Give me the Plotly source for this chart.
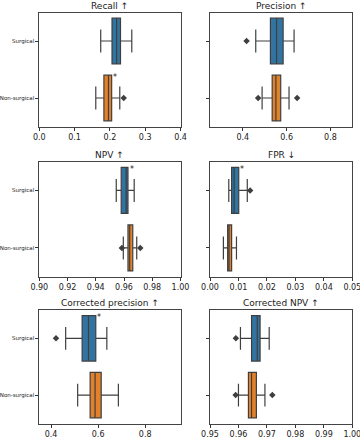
import plotly.graph_objects as go

groups = ["Surgical", "Non-surgical"]
titles = ["Recall ↑", "Precision ↑", "NPV ↑", "FPR ↓", "Corrected precision ↑", "Corrected NPV ↑"]

# [lower whisker, q1, median, q3, upper whisker]
recall_surg = [0.174, 0.206, 0.219, 0.230, 0.262]
recall_non = [0.160, 0.183, 0.196, 0.205, 0.228]
precision_surg = [0.459, 0.526, 0.554, 0.584, 0.634]
precision_non = [0.488, 0.534, 0.551, 0.573, 0.611]
npv_surg = [0.9545, 0.9580, 0.9615, 0.9628, 0.9672]
npv_non = [0.9595, 0.9628, 0.9640, 0.9662, 0.9690]
fpr_surg = [0.0066, 0.0076, 0.0085, 0.0101, 0.0131]
fpr_non = [0.0047, 0.0062, 0.0067, 0.0076, 0.0093]
cprec_surg = [0.462, 0.532, 0.559, 0.590, 0.637]
cprec_non = [0.513, 0.566, 0.587, 0.613, 0.686]
cnpv_surg = [0.9607, 0.9646, 0.9666, 0.9676, 0.9708]
cnpv_non = [0.9600, 0.9635, 0.9646, 0.9663, 0.9693]

# outliers per metric: [surgical list, non-surgical list]
recall_out = [[], [0.239]]
precision_out = [[0.417], [0.470, 0.648]]
npv_out = [[], [0.9585, 0.9715]]
fpr_out = [[0.0141], []]
cprec_out = [[0.421], []]
cnpv_out = [[0.9591], [0.9590, 0.9719]]

# significance marks: which group carries "*"
recall_star = [False, True]
precision_star = [False, False]
npv_star = [True, False]
fpr_star = [True, False]
cprec_star = [True, False]
cnpv_star = [False, False]

x_ranges = [[0, 0.4], [0.25, 0.9], [0.9, 1.0], [0, 0.05], [0.35, 0.95], [0.95, 1.0]]
x_ticks = [[0, 0.1, 0.2, 0.3, 0.4], [0.4, 0.6, 0.8], [0.9, 0.92, 0.94, 0.96, 0.98, 1.0],
           [0, 0.01, 0.02, 0.03, 0.04, 0.05], [0.4, 0.6, 0.8], [0.95, 0.96, 0.97, 0.98, 0.99, 1.0]]
x_fmt = [".1f", ".1f", ".2f", ".2f", ".1f", ".2f"]

stats = [(recall_surg, recall_non), (precision_surg, precision_non), (npv_surg, npv_non),
         (fpr_surg, fpr_non), (cprec_surg, cprec_non), (cnpv_surg, cnpv_non)]
outs = [recall_out, precision_out, npv_out, fpr_out, cprec_out, cnpv_out]
stars = [recall_star, precision_star, npv_star, fpr_star, cprec_star, cnpv_star]

colors = ["#3274a1", "#e1812c"]
line_col = "#3f3f3f"
W, H = 360, 440
col_px = [(39.3, 180.5), (210.0, 352.3)]
row_px = [(12.5, 126.5), (161.7, 276.7), (310.0, 423.5)]

fig = go.Figure()
font = "DejaVu Sans"
layout = dict(width=W, height=H, margin=dict(l=0, r=0, t=0, b=0), showlegend=False,
              paper_bgcolor="white", plot_bgcolor="white", annotations=[])

for k in range(6):
    r, c = divmod(k, 2)
    xa = "x" if k == 0 else f"x{k+1}"
    ya = "y" if k == 0 else f"y{k+1}"
    for g in range(2):
        lo, q1, med, q3, hi = stats[k][g]
        fig.add_trace(go.Box(
            y=[g], q1=[q1], median=[med], q3=[q3], lowerfence=[lo], upperfence=[hi],
            orientation="h", width=0.8, whiskerwidth=0.5, boxpoints=False,
            fillcolor=colors[g], line=dict(color=line_col, width=1.2),
            xaxis=xa, yaxis=ya, hoverinfo="skip"))
        if outs[k][g]:
            fig.add_trace(go.Scatter(
                x=outs[k][g], y=[g] * len(outs[k][g]), mode="markers",
                marker=dict(symbol="diamond", size=5, color=line_col, line=dict(width=0)),
                xaxis=xa, yaxis=ya, hoverinfo="skip"))
        if stars[k][g]:
            span = x_ranges[k][1] - x_ranges[k][0]
            layout["annotations"].append(dict(
                x=q3 + 0.025 * span, y=g - 0.36, xref=xa, yref=ya, text="*", showarrow=False,
                font=dict(family=font, size=8, color="#222"), xanchor="center", yanchor="middle"))
    x0, x1 = col_px[c]
    y0, y1 = row_px[r]
    xdom = [x0 / W, x1 / W]
    ydom = [1 - y1 / H, 1 - y0 / H]
    axkey = "xaxis" if k == 0 else f"xaxis{k+1}"
    aykey = "yaxis" if k == 0 else f"yaxis{k+1}"
    layout[axkey] = dict(domain=xdom, anchor=ya, range=x_ranges[k], tickvals=x_ticks[k],
                         tickformat=x_fmt[k], ticks="outside", ticklen=3, tickwidth=0.8,
                         tickcolor="#333", showgrid=False, zeroline=False, showline=True,
                         linecolor="#444", linewidth=1, mirror=True, automargin=False,
                         ticklabeloverflow="allow",
                         tickfont=dict(family=font, size=8, color="#222"))
    layout[aykey] = dict(domain=ydom, anchor=xa, range=[1.5, -0.5], tickvals=[0, 1],
                         ticktext=groups if c == 0 else ["", ""], ticks="outside", ticklen=3,
                         tickwidth=0.8, tickcolor="#333", showgrid=False, zeroline=False,
                         showline=True, linecolor="#444", linewidth=1, mirror=True,
                         automargin=False, ticklabeloverflow="allow",
                         tickfont=dict(family=font, size=5.5, color="#222"))
    layout["annotations"].append(dict(
        x=(xdom[0] + xdom[1]) / 2, y=ydom[1], xref="paper", yref="paper", text=titles[k],
        showarrow=False, xanchor="center", yanchor="bottom", yshift=0,
        font=dict(family=font, size=9, color="#222")))

fig.update_layout(**layout)
fig.write_html("out.html", config={"displayModeBar": False},
               post_script="document.body.style.margin='0';document.body.style.overflow='hidden';")
